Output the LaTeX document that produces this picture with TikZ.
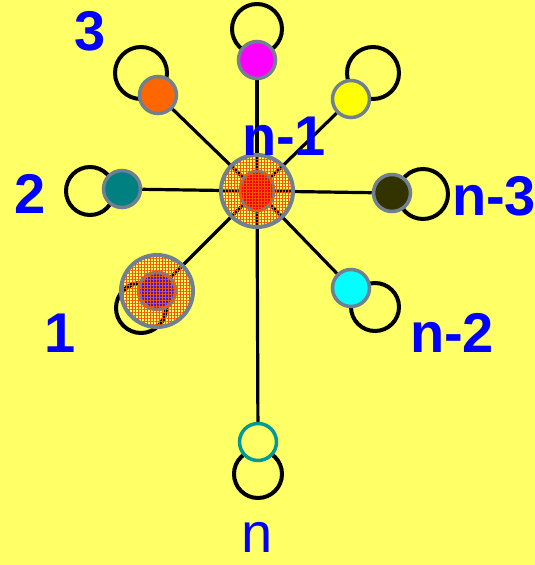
\documentclass[tikz,border=0pt]{standalone}
\usepackage{fontspec}
\setmainfont{Liberation Sans}
\usetikzlibrary{shapes.geometric,patterns.meta}
\definecolor{bgyellow}{RGB}{255,255,102}
\definecolor{nodegrey}{RGB}{112,128,144}
\definecolor{labelblue}{RGB}{0,0,255}
\definecolor{hatchred}{RGB}{240,90,0}
\definecolor{vred}{RGB}{255,0,0}
\definecolor{vorange}{RGB}{255,102,0}
\definecolor{vmagenta}{RGB}{255,0,255}
\definecolor{vyellow}{RGB}{255,255,0}
\definecolor{vcyan}{RGB}{0,255,255}
\definecolor{vteal}{RGB}{0,128,128}
\definecolor{vdark}{RGB}{51,51,0}
\definecolor{vpurple}{RGB}{80,20,200}
\definecolor{vring}{RGB}{0,153,153}
\pgfdeclarelayer{back}
\pgfdeclarelayer{front}
\pgfsetlayers{back,main,front}
\tikzset{
  vertex/.style={circle,draw=nodegrey,line width=3.5pt,minimum size=37pt,inner sep=0pt},
  spoke/.style={line width=3.2pt},
  selfloop/.style={line width=4pt},
  halo/.style={circle,draw=nodegrey,line width=4pt,minimum size=72pt,inner sep=0pt,
    pattern={Hatch[distance=3pt,line width=1pt]},pattern color=hatchred},
  lbl/.style={text=labelblue,font=\fontsize{56}{60}\selectfont\bfseries,inner sep=0pt,anchor=base},
}
\begin{document}
\begin{tikzpicture}[x=1pt,y=-1pt]
  \useasboundingbox (0,0) rectangle (535,565);
  % hub and leaves
  \node[ellipse,draw=nodegrey,line width=3pt,fill=vred,minimum width=34pt,minimum height=40pt,inner sep=0pt] (hub) at (257,191) {};
  \node[vertex,fill=vpurple] (v1) at (157,291) {};
  \node[vertex,fill=vteal] (v2) at (122,189) {};
  \node[vertex,fill=vorange] (v3) at (158,95) {};
  \node[vertex,fill=vmagenta] (v4) at (257,60) {};
  \node[vertex,fill=vyellow] (v5) at (351,99) {};
  \node[vertex,fill=vdark] (v6) at (392,193) {};
  \node[vertex,fill=vcyan] (v7) at (351,288) {};
  \node[vertex,draw=vring,fill=bgyellow] (vn) at (258,442) {};
  \begin{pgfonlayer}{back}
    \fill[bgyellow] (0,0) rectangle (535,565);
    \foreach \v in {v1,v2,v3,v4,v5,v6,v7,vn}
      \draw[spoke] (hub.center) -- (\v);
    % self loops
    \draw[selfloop] (v1) ++(-16,17) circle (25pt);
    \draw[selfloop] (v2) ++(-32,2) circle (24pt);
    \draw[selfloop] (v3) ++(-17,-22) circle (26pt);
    \draw[selfloop] (v4) ++(0,-31) circle (25pt);
    \draw[selfloop] (v5) ++(22,-26) circle (26pt);
    \draw[selfloop] (v6) ++(31,1) circle (25pt);
    \draw[selfloop] (v7) ++(24,19) circle (24pt);
    \draw[selfloop] (vn) ++(0,32) circle (24pt);
  \end{pgfonlayer}
  \begin{pgfonlayer}{front}
    \node[halo] (h0) at (hub) {};
    \node[halo] (h1) at (v1) {};
    \node[lbl] (l1) at (60,352) {1};
    \node[lbl] (l2) at (30,213) {2};
    \node[lbl] (l3) at (90,50) {3};
    \node[lbl] (lhub) at (284,155) {n-1};
    \node[lbl] (l6) at (494,215) {n-3};
    \node[lbl] (l7) at (452,352) {n-2};
    \node[lbl,font=\fontsize{56}{60}\selectfont] (ln) at (257,552) {n};
  \end{pgfonlayer}
\end{tikzpicture}
\end{document}
